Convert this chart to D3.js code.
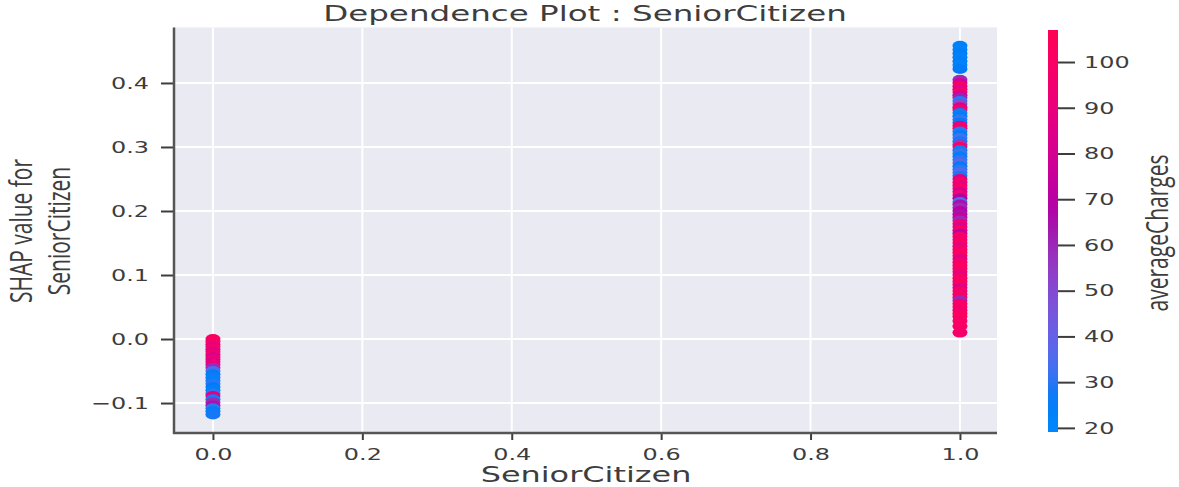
<!DOCTYPE html>
<html>
<head>
<meta charset="utf-8">
<script src="https://cdn.jsdelivr.net/npm/d3@7"></script>
<style>
  body { margin: 0; background: #fff; }
  svg { display: block; }
</style>
</head>
<body>
<svg id="chart" width="1179" height="487"></svg>
<script>
// ---- data ----
const titleText = 'Dependence Plot : SeniorCitizen'
const xLabel = 'SeniorCitizen'
const yLabelLines = ['SHAP value for', 'SeniorCitizen']
const colorLabel = 'averageCharges'

const xTicks = [0.0, 0.2, 0.4, 0.6, 0.8, 1.0]
const yTicks = [-0.1, 0.0, 0.1, 0.2, 0.3, 0.4]
const colorTicks = [20, 30, 40, 50, 60, 70, 80, 90, 100]
const colorRange = [19.1, 107]

// SeniorCitizen = 0
const shapNonSenior = [0.000, -0.004, -0.008, -0.012, -0.016, -0.020, -0.024, -0.028, -0.032, -0.036,
    -0.040, -0.045, -0.050, -0.055, -0.060, -0.065, -0.070, -0.075, -0.080, -0.085,
    -0.089, -0.094, -0.099, -0.104, -0.108, -0.113, -0.118]
const chargesNonSenior = [100, 102, 98, 88, 100, 85, 97, 82, 95, 85,
    92, 60, 35, 25, 28, 22, 30, 26, 24, 30,
    85, 28, 60, 65, 30, 25, 28]

// SeniorCitizen = 1
const shapSenior = [0.458, 0.452, 0.446, 0.440, 0.434, 0.428, 0.422,
    0.405, 0.400, 0.395, 0.390, 0.386, 0.381, 0.377, 0.372, 0.367, 0.362, 0.358, 0.353,
    0.348, 0.343, 0.338, 0.333, 0.329, 0.324, 0.319, 0.314, 0.309, 0.304, 0.300, 0.295,
    0.290, 0.285, 0.280, 0.275, 0.270, 0.265, 0.260, 0.255, 0.250, 0.245, 0.240, 0.235,
    0.230, 0.225, 0.220, 0.214, 0.210, 0.205, 0.200, 0.195, 0.190, 0.185, 0.180, 0.175,
    0.170, 0.165, 0.160, 0.155, 0.150, 0.145, 0.140, 0.135, 0.130, 0.125, 0.120, 0.115,
    0.110, 0.105, 0.100, 0.095, 0.090, 0.085, 0.080, 0.075, 0.070, 0.065, 0.060, 0.055,
    0.050, 0.045, 0.040, 0.035, 0.028, 0.020, 0.010]
const chargesSenior = [24, 22, 26, 23, 25, 22, 27,
    60, 80, 100, 85, 100, 80, 62, 30, 50, 85, 100, 28,
    25, 32, 27, 90, 100, 30, 26, 33, 28, 55, 100, 28,
    32, 25, 30, 38, 27, 30, 35, 28, 85, 100, 90, 98,
    82, 95, 68, 35, 65, 60, 70, 65, 75, 60, 95, 85,
    98, 70, 100, 95, 102, 88, 100, 97, 104, 85, 100, 96,
    103, 99, 88, 101, 97, 104, 82, 100, 95, 102, 60, 98,
    101, 96, 100, 103, 99, 101, 97]

// ---- layout ----
const SX = 1.45 // the reference is stretched sideways
const plot = { left: 174, right: 997, top: 27.4, bottom: 433 }
const bar = { x: 1048, w: 10, top: 30, bottom: 432 }
const INK = '#3d3d3d'
const FONT = 'DejaVu Sans, sans-serif'

const svg = d3.select('#chart')

const x = d3.scaleLinear().domain([-0.05, 1.05]).range([175.6, 997.3])
const y = d3.scaleLinear().domain([-0.1468, 0.4868]).range([plot.bottom, plot.top])
const cScale = d3.scaleLinear().domain(colorRange).range([bar.bottom, bar.top])

// shap's red_blue map: lightness dips in the middle, hue turns through purple
const redBlue = t => {
    const l = t < 0.5 ? 54 - 28 * t : 40 + 28 * (t - 0.5)
    const c = 70 + 20 * t
    const h = 266.9 + (380.3 - 266.9) * t
    return d3.hcl(h, c, l).rgb().clamp().formatHex()
}
const color = d3.scaleSequential(redBlue).domain(colorRange)

// Background and grid
svg.append('rect')
    .attr('x', plot.left).attr('y', plot.top)
    .attr('width', plot.right - plot.left).attr('height', plot.bottom - plot.top)
    .attr('fill', '#eaeaf2')

svg.append('g').selectAll('line').data(xTicks).join('line')
    .attr('x1', d => x(d)).attr('x2', d => x(d))
    .attr('y1', plot.top).attr('y2', plot.bottom)
    .attr('stroke', '#fff').attr('stroke-width', 2)

svg.append('g').selectAll('line').data(yTicks).join('line')
    .attr('x1', plot.left).attr('x2', plot.right)
    .attr('y1', d => y(d)).attr('y2', d => y(d))
    .attr('stroke', '#fff').attr('stroke-width', 2)

// Points
const points = []
shapNonSenior.forEach((s, i) => points.push({ sc: 0, shap: s, charge: chargesNonSenior[i] }))
shapSenior.forEach((s, i) => points.push({ sc: 1, shap: s, charge: chargesSenior[i] }))

svg.append('g').selectAll('ellipse').data(points).join('ellipse')
    .attr('cx', d => x(d.sc))
    .attr('cy', d => y(d.shap))
    .attr('rx', 7.5)
    .attr('ry', 5)
    .attr('fill', d => color(d.charge))

// Axes
const fmt = d => d3.format('.1f')(d).replace('-', '\u2212')

const yAxis = svg.append('g')
    .attr('transform', `translate(${plot.left},0)`)
    .call(d3.axisLeft(y).tickValues(yTicks).tickSize(13).tickFormat(fmt))
yAxis.select('.domain').remove()
yAxis.selectAll('.tick line').attr('stroke', INK).attr('stroke-width', 2)
yAxis.selectAll('.tick text')
    .attr('x', -25 / SX)
    .attr('transform', `scale(${SX},1)`)
    .attr('fill', INK).attr('font-family', FONT).attr('font-size', 16.5)

const xAxis = svg.append('g')
    .attr('transform', `translate(0,${plot.bottom})`)
    .call(d3.axisBottom(x).tickValues(xTicks).tickSize(7).tickFormat(fmt))
xAxis.select('.domain').remove()
xAxis.selectAll('.tick line').attr('stroke', INK).attr('stroke-width', 2)
xAxis.selectAll('.tick text')
    .attr('y', 27).attr('dy', 0)
    .attr('transform', `scale(${SX},1)`)
    .attr('fill', INK).attr('font-family', FONT).attr('font-size', 16.5)

// Spines
svg.append('line')
    .attr('x1', plot.left).attr('x2', plot.left)
    .attr('y1', plot.top).attr('y2', plot.bottom + 1)
    .attr('stroke', '#555').attr('stroke-width', 2.5)
svg.append('line')
    .attr('x1', plot.left - 1).attr('x2', plot.right)
    .attr('y1', plot.bottom).attr('y2', plot.bottom)
    .attr('stroke', '#555').attr('stroke-width', 2.5)

// Stretched horizontal text helper
const stretchedText = (str, cx, baseline, size, sx) => {
    svg.append('text')
        .attr('transform', `translate(${cx},${baseline}) scale(${sx},1)`)
        .attr('text-anchor', 'middle')
        .attr('font-family', FONT)
        .attr('font-size', size)
        .attr('fill', INK)
        .text(str)
}

stretchedText(titleText, 585, 21, 21, 1.55)
stretchedText(xLabel, 586, 482, 21, 1.52)

// Rotated labels (Open Sans look), stretched sideways like the rest
const rotatedText = (str, baselineX, cy) => {
    svg.append('text')
        .attr('transform', `translate(${baselineX},${cy}) rotate(-90) scale(1,${SX})`)
        .attr('text-anchor', 'middle')
        .attr('font-family', 'Open Sans, sans-serif')
        .attr('font-size', 21)
        .attr('fill', INK)
        .text(str)
}
rotatedText(yLabelLines[0], 32, 231)
rotatedText(yLabelLines[1], 70, 231)
rotatedText(colorLabel, 1168, 233)

// Colorbar
const grad = svg.append('defs').append('linearGradient')
    .attr('id', 'cbar').attr('x1', 0).attr('y1', 1).attr('x2', 0).attr('y2', 0)
grad.selectAll('stop').data(d3.range(0, 1.0001, 0.05)).join('stop')
    .attr('offset', d => d)
    .attr('stop-color', d => color(colorRange[0] + d * (colorRange[1] - colorRange[0])))

svg.append('rect')
    .attr('x', bar.x).attr('y', bar.top)
    .attr('width', bar.w).attr('height', bar.bottom - bar.top)
    .attr('fill', 'url(#cbar)')

const cAxis = svg.append('g')
    .attr('transform', `translate(${bar.x + bar.w},0)`)
    .call(d3.axisRight(cScale).tickValues(colorTicks).tickSize(17))
cAxis.select('.domain').remove()
cAxis.selectAll('.tick line').attr('stroke', INK).attr('stroke-width', 2)
cAxis.selectAll('.tick text')
    .attr('x', 26 / SX)
    .attr('transform', `scale(${SX},1)`)
    .attr('fill', INK).attr('font-family', FONT).attr('font-size', 16.5)
</script>
</body>
</html>
